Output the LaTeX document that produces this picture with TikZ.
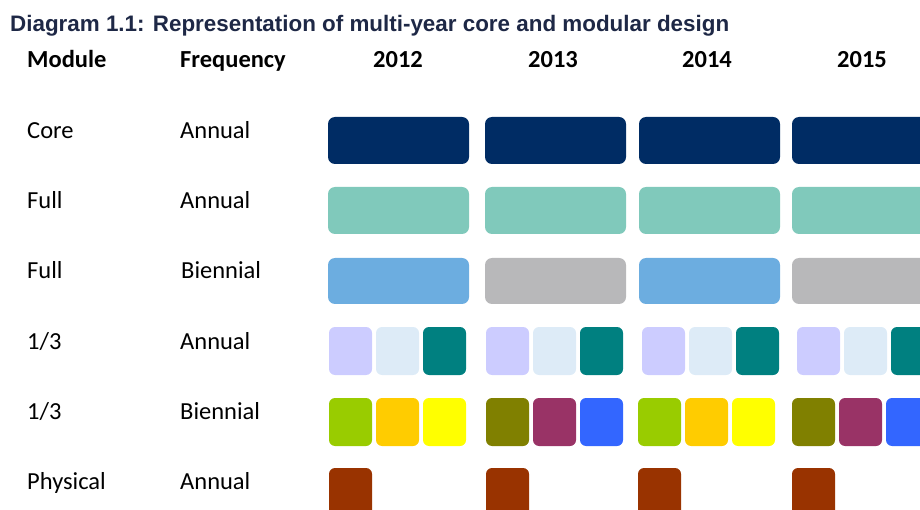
\documentclass[tikz,border=0pt]{standalone}
\usepackage{fontspec}
\setmainfont{Carlito}
\newfontfamily\arialfont{Liberation Sans}

\definecolor{titleink}{RGB}{30,40,70}
\definecolor{corenavy}{RGB}{0,44,100}
\definecolor{fullmint}{RGB}{128,201,187}
\definecolor{fullblue}{RGB}{108,173,224}
\definecolor{fullgray}{RGB}{184,184,186}
\definecolor{thirdlav}{RGB}{204,204,255}
\definecolor{thirdpale}{RGB}{221,235,247}
\definecolor{thirdteal}{RGB}{0,128,128}
\definecolor{bienlime}{RGB}{153,204,0}
\definecolor{biengold}{RGB}{255,204,0}
\definecolor{bienyellow}{RGB}{255,255,0}
\definecolor{bienolive}{RGB}{128,128,0}
\definecolor{bienplum}{RGB}{153,51,102}
\definecolor{bienroyal}{RGB}{51,102,255}
\definecolor{physrust}{RGB}{153,51,0}

\tikzset{
	lab/.style={anchor=base west, inner sep=0pt, font=\fontsize{24.5}{28}\selectfont},
	head/.style={anchor=base west, inner sep=0pt, font=\fontsize{24.5}{28}\selectfont\bfseries},
	yearhead/.style={head, anchor=base},
	bar/.style={rounded corners=7pt},
	sq/.style={rounded corners=6pt},
}

\begin{document}
\begin{tikzpicture}[x=1pt,y=-1pt]
	\useasboundingbox (0,0) rectangle (920,510);
	\clip (0,0) rectangle (920,510);
	% heading
	\node [anchor=base west, inner sep=0pt, text=titleink, font=\arialfont\bfseries\fontsize{22.4}{26}\selectfont] at (10,32) (title) {Diagram 1.1: Representation of multi-year core and modular design};
	\node [head] at (27,68) (hModule) {Module};
	\node [head] at (180,68) (hFreq) {Frequency};
	\node [yearhead] at (398,68) (y2012) {2012};
	\node [yearhead] at (553,68) (y2013) {2013};
	\node [yearhead] at (707,68) (y2014) {2014};
	\node [yearhead] at (862,68) (y2015) {2015};
	% row labels
	\node [lab] at (27,139) (mCore) {Core};
	\node [lab] at (180,139) (fCore) {Annual};
	\node [lab] at (27,209) (mFullA) {Full};
	\node [lab] at (180,209) (fFullA) {Annual};
	\node [lab] at (27,279) (mFullB) {Full};
	\node [lab] at (181,279) (fFullB) {Biennial};
	\node [lab] at (27,349) (mThirdA) {1/3};
	\node [lab] at (180,349) (fThirdA) {Annual};
	\node [lab] at (27,419) (mThirdB) {1/3};
	\node [lab] at (180,419) (fThirdB) {Biennial};
	\node [lab] at (27,489) (mPhys) {Physical};
	\node [lab] at (180,489) (fPhys) {Annual};
	% full-width bars
	\foreach \x in {328,485,639,792}
		\fill [bar, corenavy] (\x,117) rectangle +(141,47);
	\foreach \x in {328,485,639,792}
		\fill [bar, fullmint] (\x,187) rectangle +(141,47);
	\foreach \x/\c in {328/fullblue,485/fullgray,639/fullblue,792/fullgray}
		\fill [bar, \c] (\x,258) rectangle +(141,46);
	% thirds
	\foreach \x in {329,486,642,797} {
		\fill [sq, thirdlav] (\x,327) rectangle +(43,48);
		\fill [sq, thirdpale] (\x+47,327) rectangle +(43,48);
		\fill [sq, thirdteal] (\x+94,327) rectangle +(43,48);
	}
	\foreach \x/\ca/\cb/\cc in {329/bienlime/biengold/bienyellow,486/bienolive/bienplum/bienroyal,
		638/bienlime/biengold/bienyellow,792/bienolive/bienplum/bienroyal} {
		\fill [sq, \ca] (\x,398) rectangle +(43,48);
		\fill [sq, \cb] (\x+47,398) rectangle +(43,48);
		\fill [sq, \cc] (\x+94,398) rectangle +(43,48);
	}
	% physical
	\foreach \x in {329,486,638,792}
		\fill [sq, physrust] (\x,468) rectangle +(43,48);
\end{tikzpicture}
\end{document}
